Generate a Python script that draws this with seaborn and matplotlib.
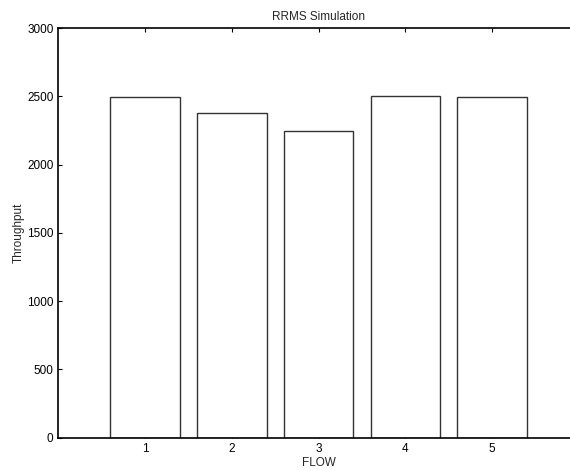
import matplotlib
matplotlib.use("Agg")
import matplotlib.pyplot as plt
import seaborn as sns
import pandas as pd

flows = ["1", "2", "3", "4", "5"]
throughput = [2497, 2375, 2248, 2502, 2495]
yticks = [0, 500, 1000, 1500, 2000, 2500, 3000]

sns.set_style("ticks")
plt.rcParams['font.family'] = ['Liberation Sans', 'DejaVu Sans']

df = pd.DataFrame({"FLOW": flows, "Throughput": throughput})

fig = plt.figure(figsize=(5.7, 4.7), dpi=100)
ax = fig.add_axes([58.3 / 570, 32.3 / 470, 520.5 / 570, 409.7 / 470])

sns.barplot(data=df, x="FLOW", y="Throughput", order=flows, color="white",
            edgecolor="#333333", linewidth=1.0, width=0.8, saturation=1, ax=ax)

ax.set_xlim(-1, 5)
ax.set_ylim(0, 3000)
ax.set_yticks(yticks)
ax.set_yticklabels([str(v) for v in yticks])
ax.tick_params(direction="in", length=3, width=0.8, labelsize=8.5, colors="black")
ax.tick_params(axis="x", top=True, pad=4)
ax.set_xlabel("FLOW", fontsize=8.5, labelpad=1)
ax.set_ylabel("Throughput", fontsize=8.5, labelpad=1.5)
ax.set_title("RRMS Simulation", fontsize=8.5, pad=6)
for s in ax.spines.values():
    s.set_color("black")
    s.set_linewidth(1.2)

fig.savefig("out.png", dpi=100)
